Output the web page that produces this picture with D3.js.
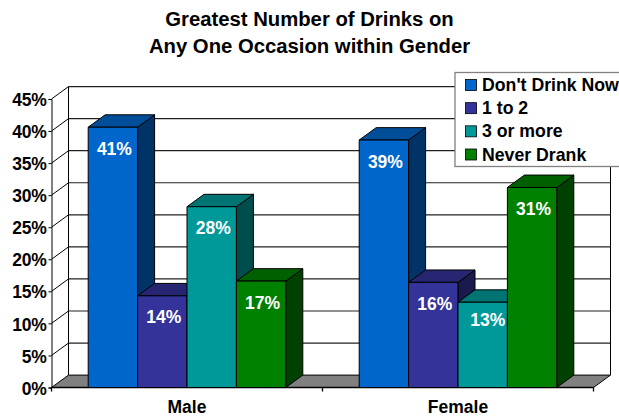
<!DOCTYPE html>
<html><head><meta charset="utf-8">
<script src="https://cdn.jsdelivr.net/npm/d3@7"></script>
<style>html,body{margin:0;padding:0;background:#fff}svg{display:block}
text{font-family:"Liberation Sans",Arial,sans-serif;font-weight:bold}</style></head>
<body><svg id="c" width="619" height="417"></svg>
<script>
const titleLines = ["Greatest Number of Drinks on", "Any One Occasion within Gender"];
const genders = ["Male", "Female"];
const seriesNames = ["Don't Drink Now", "1 to 2", "3 or more", "Never Drank"];
const dontDrinkNow = [40.6, 38.6];
const oneToTwo = [14.3, 16.4];
const threeOrMore = [28.2, 13.3];
const neverDrank = [16.6, 31.2];
const tickValues = [0, 5, 10, 15, 20, 25, 30, 35, 40, 45];
const frontColors = ["#0066cc", "#333399", "#009999", "#008000"];
const topColors = ["#004d99", "#262673", "#007373", "#006000"];
const sideColors = ["#003366", "#1a1a4d", "#004d4d", "#004000"];

const seriesValues = [dontDrinkNow, oneToTwo, threeOrMore, neverDrank];
const svg = d3.select("#c");
const depthX = 17, depthY = -12.4;
const y = d3.scaleLinear().domain([0, 45]).range([387.5, 99]);
const x0 = d3.scaleBand().domain(genders).range([51.5, 593.5]).paddingInner(0).paddingOuter(0);
const inset = (x0.bandwidth() - 197.6) / 2;
const x1 = d3.scaleBand().domain(seriesNames).range([inset, x0.bandwidth() - inset]);
const poly = pts => pts.map(p => p.join(",")).join(" ");
const L = 51.5, R = 593.5, B = y(0);

// floor
svg.append("polygon").attr("points", poly([[L,B],[L+depthX,B+depthY],[R+depthX,B+depthY],[R,B]]))
  .attr("fill","#808080").attr("stroke","#000").attr("stroke-width",1);

// grid on walls
tickValues.slice(1).forEach(t => {
  const yy = y(t);
  svg.append("line").attr("x1",L+depthX).attr("x2",R+depthX).attr("y1",yy+depthY).attr("y2",yy+depthY)
    .attr("stroke","#222").attr("stroke-width",1.2);
  svg.append("line").attr("x1",L).attr("x2",L+depthX).attr("y1",yy).attr("y2",yy+depthY)
    .attr("stroke","#000").attr("stroke-width",1);
});
// wall verticals
svg.append("line").attr("x1",L+depthX).attr("x2",L+depthX).attr("y1",B+depthY).attr("y2",y(45)+depthY).attr("stroke","#000");
svg.append("line").attr("x1",R+depthX).attr("x2",R+depthX).attr("y1",B+depthY).attr("y2",y(45)+depthY).attr("stroke","#000");

// axes
const yAxis = d3.axisLeft(y).tickValues(tickValues).tickSize(3).tickPadding(2).tickFormat(d => d + "%");
const gy = svg.append("g").attr("transform",`translate(${L},0)`).call(yAxis);
gy.selectAll("text").attr("font-size",17.5).attr("fill","#000").attr("font-family",'"Liberation Sans"').attr("font-weight","bold").attr("letter-spacing",-0.3).attr("dy","0.38em");
gy.select(".domain").attr("stroke","#000");
const xAxis = d3.axisBottom(x0).tickSize(0).tickPadding(13.5);
const gx = svg.append("g").attr("transform",`translate(0,${B})`).call(xAxis);
gx.select(".domain").attr("stroke","#000").attr("stroke-width",1.3).attr("d",`M${L},4V0H${R}V4M${(L+R)/2},0V4`);
gx.selectAll("text").attr("font-size",17.5).attr("fill","#000").attr("font-family",'"Liberation Sans"').attr("font-weight","bold");

// bars
genders.forEach((g, gi) => {
  seriesNames.forEach((s, si) => {
    const v = seriesValues[si][gi];
    const xa = x0(g) + x1(s), w = x1.bandwidth(), yt = y(v);
    const grp = svg.append("g").attr("stroke","#000").attr("stroke-width",1).attr("stroke-linejoin","round");
    grp.append("polygon").attr("fill",sideColors[si]).attr("points",poly([[xa+w,yt],[xa+w+depthX,yt+depthY],[xa+w+depthX,B+depthY],[xa+w,B]]));
    grp.append("polygon").attr("fill",topColors[si]).attr("points",poly([[xa,yt],[xa+depthX,yt+depthY],[xa+w+depthX,yt+depthY],[xa+w,yt]]));
    grp.append("rect").attr("x",xa).attr("y",yt).attr("width",w).attr("height",B-yt).attr("fill",frontColors[si]);
  });
});
// value labels, on top of all bars
genders.forEach((g, gi) => {
  seriesNames.forEach((s, si) => {
    const v = seriesValues[si][gi];
    const shifted = v < 14;
    svg.append("text").attr("x",x0(g)+x1(s)+x1.bandwidth()/2+(shifted?5:1.5)).attr("y",y(v)+(shifted?23.5:27.5))
      .attr("text-anchor","middle").attr("font-size",17.5).attr("fill","#fff").text(Math.round(v)+"%");
  });
});

// title
svg.append("text").attr("text-anchor","middle").selectAll("tspan").data(titleLines).join("tspan")
  .attr("x",309.5).attr("y",(d,i)=>26+i*27).attr("font-size",20.3).attr("fill","#000").text(d=>d);

// legend
const lg = svg.append("g");
lg.append("rect").attr("x",455).attr("y",72.5).attr("width",170).attr("height",94).attr("fill","#fff").attr("stroke","#808080").attr("stroke-width",1.3);
const ly = d3.scalePoint().domain(seriesNames).range([85,154.5]);
seriesNames.forEach((s,i)=>{
  lg.append("rect").attr("x",465.5).attr("y",ly(s)-5.5).attr("width",11).attr("height",11).attr("fill",frontColors[i]).attr("stroke","#000").attr("stroke-width",.8);
  lg.append("text").attr("x",482).attr("y",ly(s)+6).attr("font-size",17.7).attr("fill","#000").text(s);
});
</script></body></html>
